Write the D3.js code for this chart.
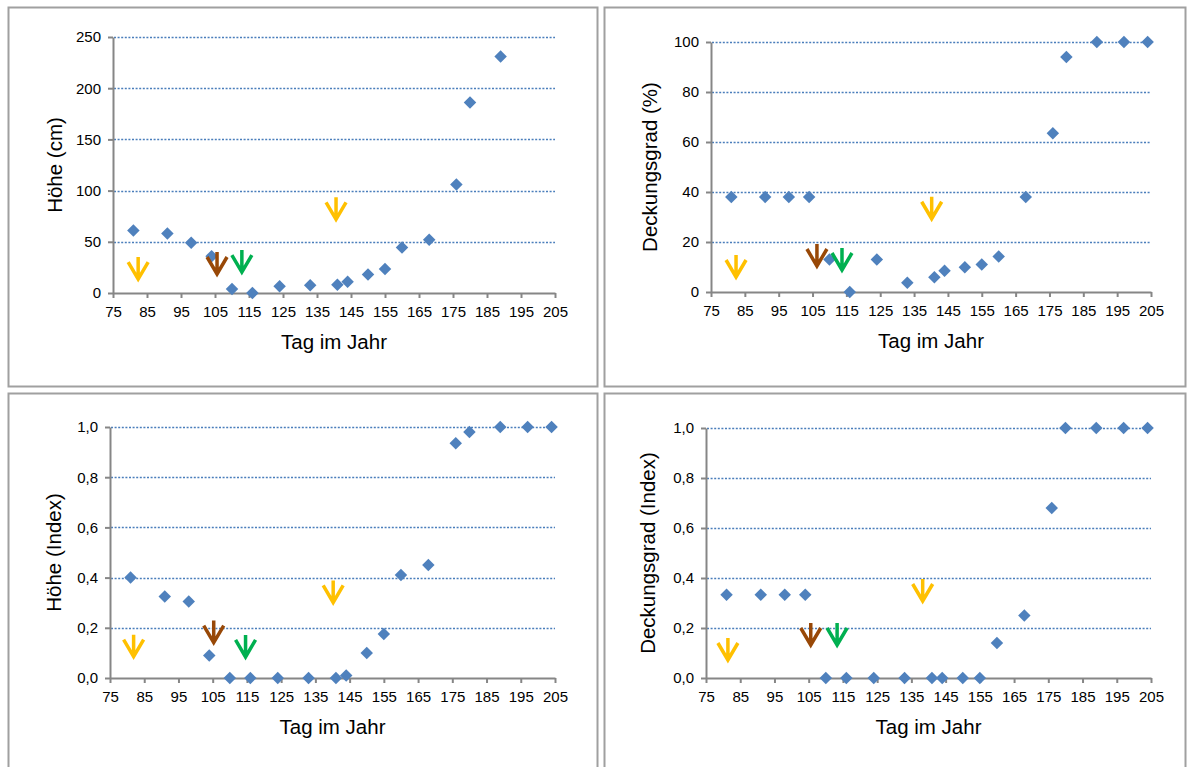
<!DOCTYPE html>
<html>
<head>
<meta charset="utf-8">
<script src="https://cdn.jsdelivr.net/npm/d3@7"></script>
<style>
  body { margin: 0; background: #fff; }
  svg { display: block; font-family: "Liberation Sans", Arial, sans-serif; }
</style>
</head>
<body>
<svg width="1187" height="767"></svg>
<script>
// Tag im Jahr (Messtermine)
var days = [81, 91, 98, 104, 110, 116, 124, 133, 141, 144, 150, 155, 160, 168, 176, 180, 189, 197, 204];

// Messwerte je Panel
var hoeheCm        = [61, 58, 49, 36, 4, 0, 6.5, 7.5, 8, 11, 18, 23.5, 44.5, 52, 106, 186, 231, null, null];
var deckungProzent = [38, 38, 38, 38, 13, 0, 13, 3.7, 5.9, 8.5, 9.9, 11, 14.2, 38, 63.5, 94, 100, 100, 100];
var hoeheIndex     = [0.40, 0.325, 0.305, 0.09, 0, 0, 0, 0, 0, 0.01, 0.10, 0.175, 0.41, 0.45, 0.935, 0.98, 1, 1, 1];
var deckungIndex   = [0.333, 0.333, 0.333, 0.333, 0, 0, 0, 0, 0, 0, 0, 0, 0.14, 0.25, 0.68, 1, 1, 1, 1];

// Achsen
var xTicks = [75, 85, 95, 105, 115, 125, 135, 145, 155, 165, 175, 185, 195, 205];
var yTicksCm = [0, 50, 100, 150, 200, 250];
var yTicksProzent = [0, 20, 40, 60, 80, 100];
var yTicksIndex = [0, 0.2, 0.4, 0.6, 0.8, 1.0];
var yLabelsIndex = ["0,0", "0,2", "0,4", "0,6", "0,8", "1,0"];

// Pfeile (Ereignisse): Tag und Wert der Pfeilspitze, Farbe
var arrowColors = ["#ffc000", "#984807", "#00b050", "#ffc000"];
var arrowsHoeheCm        = [[82.4, 11.7], [105.6, 16.6], [112.9, 18.5], [140.6, 70]];
var arrowsDeckungProzent = [[82.4, 5.2], [106.3, 9.6], [113.7, 8.0], [140.2, 28.5]];
var arrowsHoeheIndex     = [[81.9, 0.077], [105.3, 0.133], [114.6, 0.076], [140.2, 0.293]];
var arrowsDeckungIndex   = [[81.4, 0.064], [105.6, 0.124], [113.3, 0.124], [138.3, 0.30]];

var svg = d3.select("svg");

// Panelrahmen
var frames = [
    {x: 8, y: 7, w: 589, h: 379},
    {x: 604, y: 7, w: 581, h: 379},
    {x: 8, y: 393, w: 589, h: 380},
    {x: 604, y: 393, w: 581, h: 380}
];
svg.selectAll("rect.frame")
    .data(frames).enter()
    .append("rect")
        .attr("class", "frame")
        .attr("x", function(d) { return d.x + 0.5; })
        .attr("y", function(d) { return d.y + 0.5; })
        .attr("width", function(d) { return d.w; })
        .attr("height", function(d) { return d.h; })
        .attr("fill", "#fff")
        .attr("stroke", "#a0a0a0")
        .attr("stroke-width", 2);

var panels = [
    {left: 113, right: 555, top: 37, bottom: 293, yMax: 250, yTicks: yTicksCm,
     yLabels: null, values: hoeheCm, arrows: arrowsHoeheCm, title: "Höhe (cm)", titleX: 62},
    {left: 711, right: 1151, top: 42, bottom: 292, yMax: 100, yTicks: yTicksProzent,
     yLabels: null, values: deckungProzent, arrows: arrowsDeckungProzent, title: "Deckungsgrad (%)", titleX: 657},
    {left: 110, right: 555, top: 427, bottom: 678, yMax: 1, yTicks: yTicksIndex,
     yLabels: yLabelsIndex, values: hoeheIndex, arrows: arrowsHoeheIndex, title: "Höhe (Index)", titleX: 61},
    {left: 706, right: 1151, top: 428, bottom: 678, yMax: 1, yTicks: yTicksIndex,
     yLabels: yLabelsIndex, values: deckungIndex, arrows: arrowsDeckungIndex, title: "Deckungsgrad (Index)", titleX: 655}
];

var diamond = d3.symbol().type(d3.symbolSquare).size(78);

panels.forEach(function(p) {
    var x = d3.scaleLinear().domain([75, 205]).range([p.left, p.right]);
    var y = d3.scaleLinear().domain([0, p.yMax]).range([p.bottom, p.top]);
    var g = svg.append("g");

    // gepunktete Gitterlinien
    g.append("g")
        .selectAll("line")
        .data(p.yTicks.filter(function(t) { return t > 0; }))
        .enter().append("line")
            .attr("x1", p.left + 1)
            .attr("x2", p.right)
            .attr("y1", function(d) { return Math.round(y(d)) + 0.5; })
            .attr("y2", function(d) { return Math.round(y(d)) + 0.5; })
            .attr("stroke", "#4a7ebb")
            .attr("stroke-width", 1.5)
            .attr("stroke-dasharray", "2,1.6");

    var yAxis = d3.axisLeft(y)
        .tickValues(p.yTicks)
        .tickSize(5)
        .tickSizeOuter(0)
        .tickPadding(7)
        .tickFormat(function(d, i) { return p.yLabels ? p.yLabels[i] : d; });

    var xAxis = d3.axisBottom(x)
        .tickValues(xTicks)
        .tickSize(5)
        .tickSizeOuter(0)
        .tickPadding(8);

    var ya = g.append("g")
        .attr("transform", "translate(" + p.left + ",0)")
        .call(yAxis);
    var xa = g.append("g")
        .attr("transform", "translate(0," + p.bottom + ")")
        .call(xAxis);

    [ya, xa].forEach(function(a) {
        a.selectAll("path, line").attr("stroke", "#868686").attr("stroke-width", 2);
        a.selectAll("text").attr("fill", "#000").style("font-size", "15px")
            .style("font-family", "\"Liberation Sans\", Arial, sans-serif");
    });

    // Achsentitel
    g.append("text")
        .attr("x", (p.left + p.right) / 2)
        .attr("y", p.bottom + 56)
        .attr("text-anchor", "middle")
        .style("font-size", "20.5px")
        .text("Tag im Jahr");

    g.append("text")
        .attr("transform", "translate(" + p.titleX + "," + (p.top + p.bottom) / 2 + ") rotate(-90)")
        .attr("text-anchor", "middle")
        .style("font-size", "20.5px")
        .text(p.title);

    // Messpunkte
    var pts = days.map(function(d, i) { return {day: d, v: p.values[i]}; })
        .filter(function(d) { return d.v !== null; });

    g.append("g")
        .selectAll("path")
        .data(pts)
        .enter().append("path")
            .attr("d", diamond)
            .attr("transform", function(d) {
                return "translate(" + x(d.day) + "," + y(d.v) + ") rotate(45)";
            })
            .attr("fill", "#4f81bd");

    // Pfeile
    g.append("g")
        .selectAll("path")
        .data(p.arrows)
        .enter().append("path")
            .attr("transform", function(d) {
                return "translate(" + x(d[0]) + "," + (y(d[1]) - 2) + ")";
            })
            .attr("d", "M0,-22 L0,0 M-10,-17 L0,0 L10,-17")
            .attr("fill", "none")
            .attr("stroke", function(d, i) { return arrowColors[i]; })
            .attr("stroke-width", 3.5)
            .attr("stroke-linejoin", "miter");
});
</script>
</body>
</html>
